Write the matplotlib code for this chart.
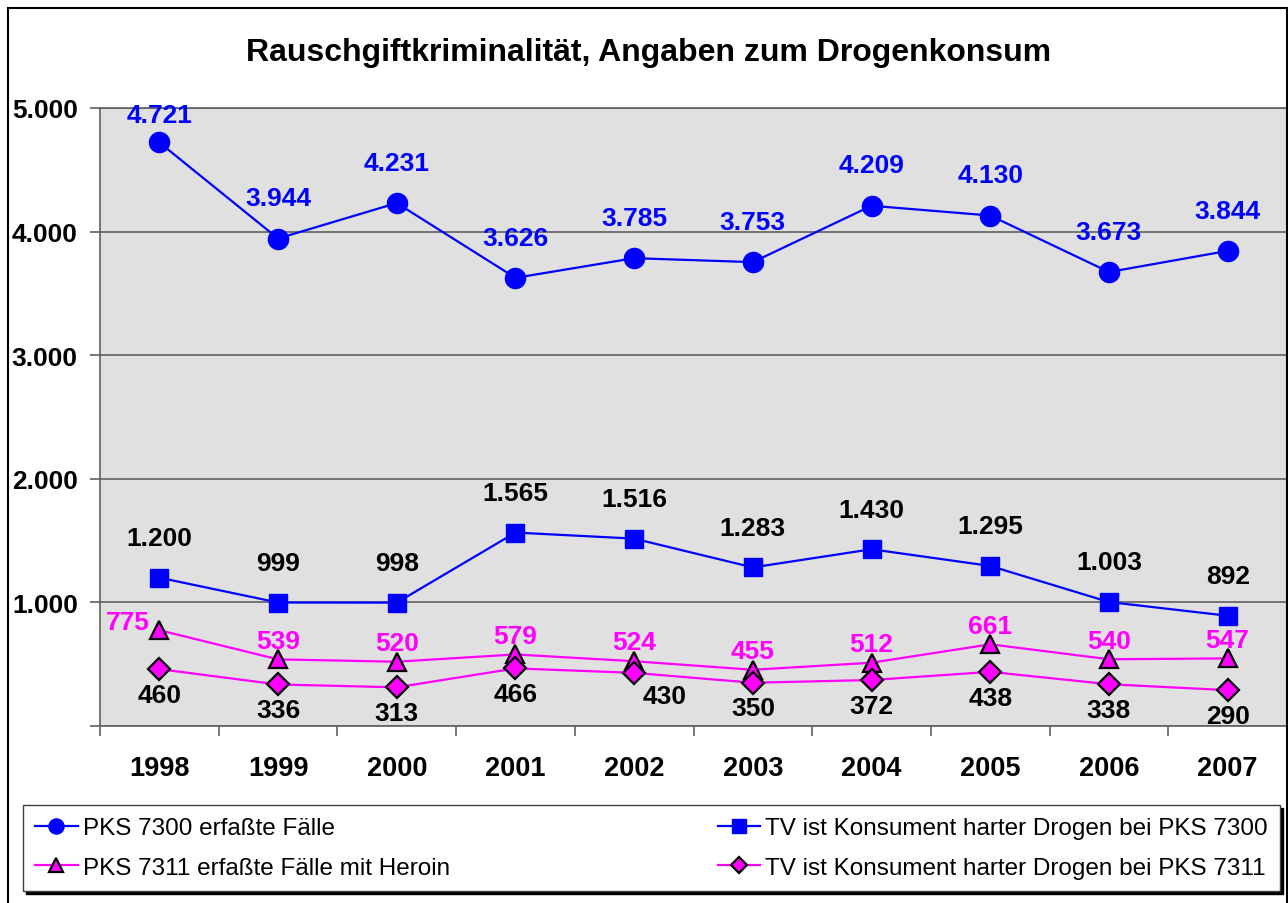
import matplotlib
matplotlib.use('Agg')
import matplotlib.pyplot as plt
import matplotlib.ticker as mticker
from matplotlib.patches import Rectangle

plt.rcParams['font.family'] = ['Liberation Sans', 'DejaVu Sans']

YEARS = ['1998', '1999', '2000', '2001', '2002', '2003', '2004', '2005', '2006', '2007']
PKS_7300 = [4721, 3944, 4231, 3626, 3785, 3753, 4209, 4130, 3673, 3844]
TV_7300 = [1200, 999, 998, 1565, 1516, 1283, 1430, 1295, 1003, 892]
PKS_7311 = [775, 539, 520, 579, 524, 455, 512, 661, 540, 547]
TV_7311 = [460, 336, 313, 466, 430, 350, 372, 438, 338, 290]

TITLE = 'Rauschgiftkriminalität, Angaben zum Drogenkonsum'
LABELS = [
    'PKS 7300 erfaßte Fälle',
    'TV ist Konsument harter Drogen bei PKS 7300',
    'PKS 7311 erfaßte Fälle mit Heroin',
    'TV ist Konsument harter Drogen bei PKS 7311',
]

BLUE = '#0000FF'
MAGENTA = '#FF00FF'

W, H = 1288, 904
fig = plt.figure(figsize=(W / 100, H / 100), dpi=100)

# outer chart frame
fig.patches.append(Rectangle((8 / W, -0.01), 1279 / W, 1 - 9 / H + 0.01,
                             transform=fig.transFigure, fill=False,
                             edgecolor='black', linewidth=1.5))

ax = fig.add_axes([100 / W, 1 - 727 / H, 1187 / W, 618 / H])
ax.set_facecolor('#E0E0E0')

x = list(range(len(YEARS)))

l1, = ax.plot(x, PKS_7300, color=BLUE, lw=1.6, marker='o', ms=14.5,
              mfc=BLUE, mec=BLUE, zorder=3)
l2, = ax.plot(x, TV_7300, color=BLUE, lw=1.6, marker='s', ms=13,
              mfc=BLUE, mec=BLUE, zorder=3)
l3, = ax.plot(x, PKS_7311, color=MAGENTA, lw=1.6, marker='^', ms=13.5,
              mfc=MAGENTA, mec='black', mew=1.6, zorder=3)
l4, = ax.plot(x, TV_7311, color=MAGENTA, lw=1.6, marker='D', ms=11,
              mfc=MAGENTA, mec='black', mew=1.6, zorder=4)


def fmt(v):
    return f'{v:,}'.replace(',', '.')


lab = dict(fontsize=19, fontweight='bold', ha='center', va='center',
           textcoords='offset points', zorder=5)

for i, v in enumerate(PKS_7300):
    dy = 20 if i == 0 else 29
    ax.annotate(fmt(v), (i, v), xytext=(0, dy), color=BLUE, **lab)
for i, v in enumerate(TV_7300):
    ax.annotate(fmt(v), (i, v), xytext=(0, 28.5), color='black', **lab)
for i, v in enumerate(PKS_7311):
    off = (-23, 6) if i == 0 else (0, 13.5)
    ax.annotate(fmt(v), (i, v), xytext=off, color=MAGENTA, **lab)
for i, v in enumerate(TV_7311):
    off = (22, -17) if i == 4 else (0, -18.5)
    ax.annotate(fmt(v), (i, v), xytext=off, color='black', **lab)

ax.set_xlim(-0.5, len(YEARS) - 0.5)
ax.set_ylim(0, 5000)
ax.yaxis.set_major_locator(mticker.MultipleLocator(1000))
ax.yaxis.set_major_formatter(mticker.FuncFormatter(
    lambda v, p: fmt(int(v)) if v > 0 else ''))
ax.grid(axis='y', color='#606060', lw=1.2, zorder=1)
ax.set_axisbelow(True)

ax.set_xticks([i + 0.5 for i in range(-1, len(YEARS))])
ax.set_xticklabels([])
ax.set_xticks(x, minor=True)
ax.set_xticklabels(YEARS, minor=True)
ax.tick_params(axis='x', which='minor', length=0, pad=21,
               labelsize=19.5)
ax.tick_params(axis='x', which='major', direction='out', length=7,
               color='#606060', width=1.2)
ax.tick_params(axis='y', direction='out', length=7, color='#606060',
               width=1.2, labelsize=19, pad=9)
for t in ax.get_xticklabels(minor=True) + ax.get_yticklabels():
    t.set_fontweight('bold')

for s in ax.spines.values():
    s.set_color('#606060')
    s.set_linewidth(1.2)

fig.text(649 / W, 1 - 53 / H, TITLE, ha='center', va='center',
         fontsize=23, fontweight='bold')

leg = fig.legend([l1, l3, l2, l4], [LABELS[0], LABELS[2], LABELS[1], LABELS[3]],
                 ncol=2, loc='lower left', mode='expand',
                 bbox_to_anchor=(23 / W, 1 - 892 / H, 1257 / W, 89 / H),
                 prop=dict(size=17.5), frameon=True, fancybox=False,
                 shadow={'color': 'black', 'alpha': 1}, markerscale=0.75,
                 handlelength=1.75, handletextpad=0.2, borderpad=0.5,
                 labelspacing=0.72, borderaxespad=0, columnspacing=1.0)
leg.get_frame().set_edgecolor('#404040')
leg.get_frame().set_linewidth(1.0)

fig.savefig('out.png', dpi=100)
